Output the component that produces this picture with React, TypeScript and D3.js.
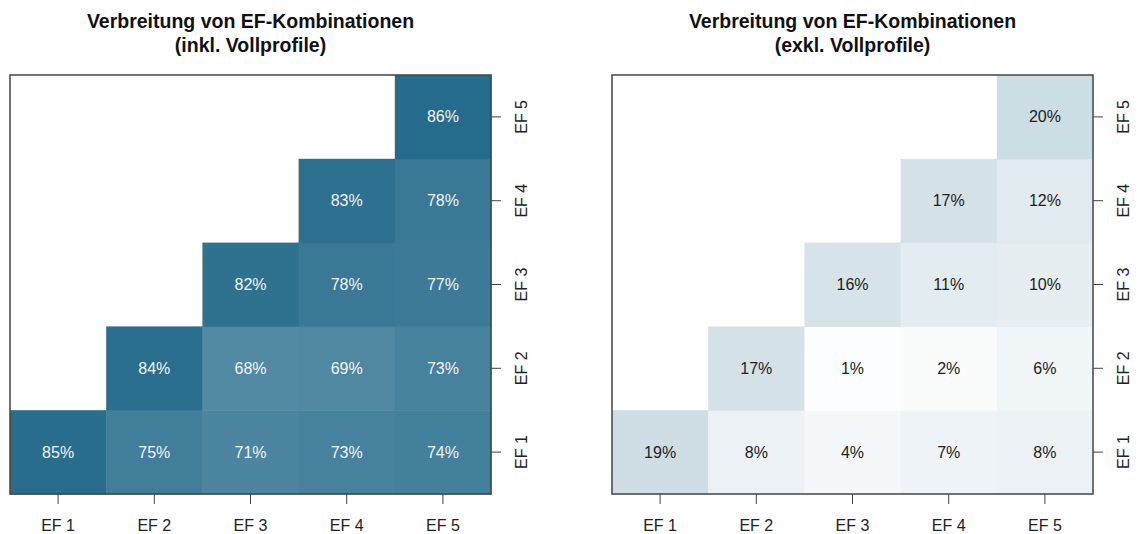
import React from "react";
import * as d3 from "d3";

const factors = ["EF 1", "EF 2", "EF 3", "EF 4", "EF 5"];

// rows: EF i (index), columns EF j >= i
const inclRows: number[][] = [
  [85, 75, 71, 73, 74],
  [84, 68, 69, 73],
  [82, 78, 77],
  [83, 78],
  [86],
];
const exclRows: number[][] = [
  [19, 8, 4, 7, 8],
  [17, 1, 2, 6],
  [16, 11, 10],
  [17, 12],
  [20],
];

const titlesIncl = ["Verbreitung von EF-Kombinationen", "(inkl. Vollprofile)"];
const titlesExcl = ["Verbreitung von EF-Kombinationen", "(exkl. Vollprofile)"];

const color = d3.scaleLinear<string>().domain([0, 86]).range(["#ffffff", "#256b8b"]);

const FONT = "'Liberation Sans', Arial, Helvetica, sans-serif";

function Panel({ x0, rows, titles, textColor }: { x0: number; rows: number[][]; titles: string[]; textColor: string }) {
  const left = x0;
  const right = x0 + 481;
  const top = 75;
  const bottom = 494;
  const x = d3.scaleBand<string>().domain(factors).range([left, right]).padding(0);
  const y = d3.scaleBand<string>().domain([...factors].reverse()).range([top, bottom]).padding(0);
  const cells: { r: number; c: number; v: number }[] = [];
  rows.forEach((row, r) => row.forEach((v, k) => cells.push({ r, c: r + k, v })));
  const cx = (left + right) / 2;
  return (
    <g>
      <text x={cx} y={28} textAnchor="middle" fontFamily={FONT} fontWeight="bold" fontSize={19.5} fill="#111">{titles[0]}</text>
      <text x={cx} y={52} textAnchor="middle" fontFamily={FONT} fontWeight="bold" fontSize={19.5} fill="#111">{titles[1]}</text>
      {cells.map((d, i) => (
        <rect key={i} x={x(factors[d.c])!} y={y(factors[d.r])!} width={x.bandwidth() + 0.5} height={y.bandwidth() + 0.5} fill={color(d.v)} />
      ))}
      {cells.map((d, i) => (
        <text key={"t" + i} x={x(factors[d.c])! + x.bandwidth() / 2} y={y(factors[d.r])! + y.bandwidth() / 2 + 5.5} textAnchor="middle" fontFamily={FONT} fontSize={16} fill={textColor}>{d.v}%</text>
      ))}
      <rect x={left} y={top} width={right - left} height={bottom - top} fill="none" stroke="#444" strokeWidth={1.5} />
      {factors.map((f) => {
        const tx = x(f)! + x.bandwidth() / 2;
        return (
          <g key={"bx" + f}>
            <line x1={tx} x2={tx} y1={bottom} y2={bottom + 10} stroke="#444" strokeWidth={1} />
            <text x={tx} y={531} textAnchor="middle" fontFamily={FONT} fontSize={16} fill="#222">{f}</text>
          </g>
        );
      })}
      {factors.map((f) => {
        const ty = y(f)! + y.bandwidth() / 2;
        return (
          <g key={"ry" + f}>
            <line x1={right} x2={right + 10} y1={ty} y2={ty} stroke="#444" strokeWidth={1} />
            <text transform={`translate(${right + 36},${ty}) rotate(-90)`} textAnchor="middle" fontFamily={FONT} fontSize={16} fill="#222">{f}</text>
          </g>
        );
      })}
    </g>
  );
}

export default function App() {
  return (
    <svg width={1141} height={534} style={{ position: "absolute", left: 0, top: 0, background: "#fff" }}>
      <rect width={1141} height={534} fill="#fff" />
      <Panel x0={10} rows={inclRows} titles={titlesIncl} textColor="#f2f2f2" />
      <Panel x0={612} rows={exclRows} titles={titlesExcl} textColor="#222" />
    </svg>
  );
}
